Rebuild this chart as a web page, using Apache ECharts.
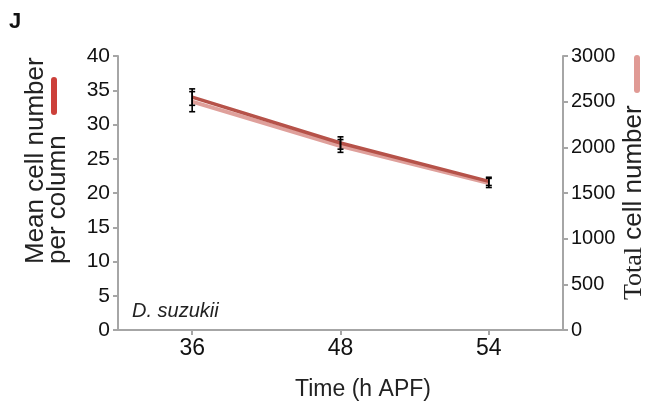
<!DOCTYPE html>
<html><head><meta charset="utf-8">
<script src="https://cdn.jsdelivr.net/npm/echarts@6/dist/echarts.min.js"></script>
<style>html,body{margin:0;padding:0;background:#fff}#c{width:657px;height:405px}</style>
</head><body><div id="c"></div>
<script>
var categories = ['36', '48', '54'];
var meanPerColumn = [34.0, 27.3, 21.7];
var meanPerColumnErr = [1.2, 0.9, 0.6];
var totalCells = [2500, 2015, 1610];
var totalCellsErr = [110, 70, 50];
var leftTicks = [0, 40, 5];
var rightTicks = [0, 3000, 500];

var FONT = 'Liberation Sans, Arial, sans-serif';
var SERIF = 'Liberation Serif, Times New Roman, serif';
var chart = echarts.init(document.getElementById('c'));

function errData(vals, errs) {
  return vals.map(function (v, i) { return [i, v - errs[i], v + errs[i]]; });
}
function errRender(params, api) {
  var lo = api.coord([api.value(0), api.value(1)]);
  var hi = api.coord([api.value(0), api.value(2)]);
  var w = 3;
  var st = { stroke: '#000', lineWidth: 1.6 };
  return { type: 'group', children: [
    { type: 'line', shape: { x1: lo[0], y1: lo[1], x2: hi[0], y2: hi[1] }, style: st },
    { type: 'line', shape: { x1: lo[0] - w, y1: lo[1], x2: lo[0] + w, y2: lo[1] }, style: st },
    { type: 'line', shape: { x1: hi[0] - w, y1: hi[1], x2: hi[0] + w, y2: hi[1] }, style: st }
  ]};
}
var axisLine = { show: true, lineStyle: { color: '#a6a6a6', width: 2 } };
var axisTick = { show: true, length: 5, lineStyle: { color: '#a6a6a6', width: 2 } };

chart.setOption({
  animation: false,
  grid: { left: 118, right: 94, top: 56, bottom: 75 },
  xAxis: {
    type: 'category', data: categories, boundaryGap: true,
    axisLine: axisLine, axisTick: Object.assign({ alignWithLabel: true }, axisTick),
    axisLabel: { color: '#111', fontSize: 23, fontFamily: FONT, margin: 7 }
  },
  yAxis: [{
    type: 'value', min: leftTicks[0], max: leftTicks[1], interval: leftTicks[2],
    axisLine: axisLine, axisTick: axisTick, splitLine: { show: false },
    axisLabel: { color: '#111', fontSize: 21, fontFamily: FONT, margin: 8 }
  }, {
    type: 'value', position: 'right', min: rightTicks[0], max: rightTicks[1], interval: rightTicks[2],
    axisLine: axisLine, axisTick: axisTick, splitLine: { show: false },
    axisLabel: { color: '#111', fontSize: 20, fontFamily: FONT, margin: 8,
      formatter: function (v) { return String(v); } }
  }],
  series: [
    { type: 'line', yAxisIndex: 1, data: totalCells, symbol: 'none',
      lineStyle: { color: '#dfa09b', width: 4 }, z: 2 },
    { type: 'line', yAxisIndex: 0, data: meanPerColumn, symbol: 'none',
      lineStyle: { color: '#b65249', width: 3.5 }, z: 3 },
    { type: 'custom', yAxisIndex: 1, data: errData(totalCells, totalCellsErr),
      renderItem: errRender, z: 4 },
    { type: 'custom', yAxisIndex: 0, data: errData(meanPerColumn, meanPerColumnErr),
      renderItem: errRender, z: 4 }
  ],
  graphic: [
    { type: 'text', x: 9, y: 11, style: { text: 'J', font: 'bold 22px ' + FONT, fill: '#111' } },
    { type: 'text', x: 132, y: 311, style: { text: 'D. suzukii', font: 'italic 20px ' + FONT, fill: '#222', textVerticalAlign: 'middle' } },
    { type: 'text', x: 363, y: 390, style: { text: 'Time (h APF)', font: '23px ' + FONT, fill: '#222', textAlign: 'center', textVerticalAlign: 'middle' } },
    { type: 'text', x: 36, y: 264, rotation: Math.PI / 2,
      style: { text: 'Mean cell number', font: '26px ' + FONT, fill: '#222', textAlign: 'left', textVerticalAlign: 'middle' } },
    { type: 'text', x: 57.5, y: 264, rotation: Math.PI / 2,
      style: { text: 'per column', font: '26px ' + FONT, fill: '#222', textAlign: 'left', textVerticalAlign: 'middle' } },
    { type: 'line', shape: { x1: 54, y1: 80, x2: 54, y2: 112 },
      style: { stroke: '#cc403a', lineWidth: 6, lineCap: 'round' } },
    { type: 'text', x: 634, y: 300, rotation: Math.PI / 2,
      style: { text: '{s|Total}{n| cell number}', textAlign: 'left', textVerticalAlign: 'middle',
        rich: { s: { font: '26px ' + SERIF, fill: '#222' }, n: { font: '26px ' + FONT, fill: '#222' } } } },
    { type: 'line', shape: { x1: 637, y1: 58, x2: 637, y2: 90 },
      style: { stroke: '#e09a95', lineWidth: 6, lineCap: 'round' } }
  ]
});
</script></body></html>
